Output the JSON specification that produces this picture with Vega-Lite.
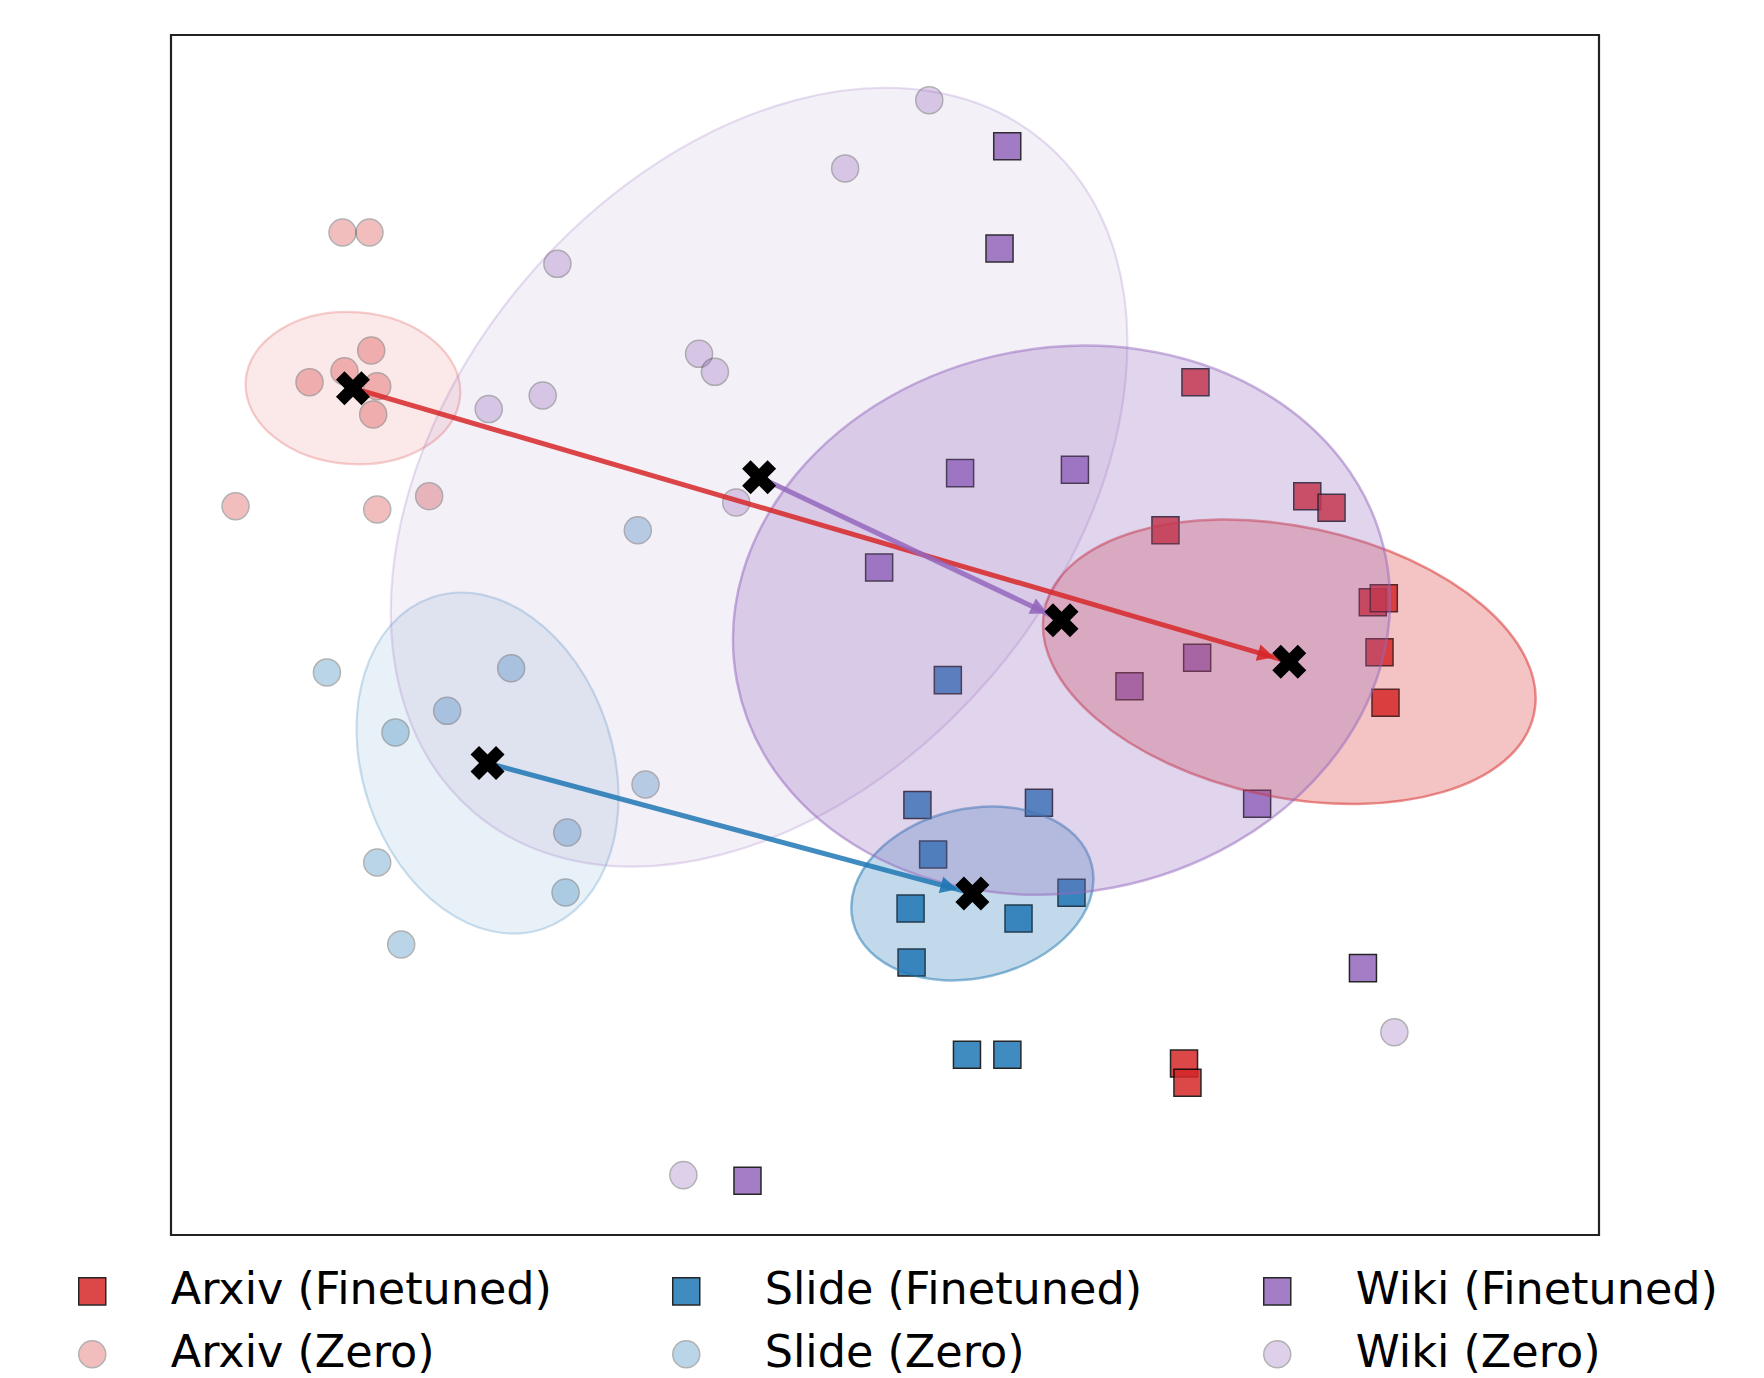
{
  "$schema": "https://vega.github.io/schema/vega-lite/v6.json",
  "autosize": {"type": "none"},
  "padding": {"left": 171, "top": 35, "right": 165, "bottom": 143},
  "width": 1428,
  "height": 1200,
  "background": "white",
  "config": {
    "font": "DejaVu Sans",
    "view": {"stroke": "#222", "strokeWidth": 2.2}
  },
  "data": {
    "values": [
      {"dataset": "Arxiv", "mode": "Zero", "series": "Arxiv (Zero)", "x": 12.01, "y": 83.54},
      {"dataset": "Arxiv", "mode": "Zero", "series": "Arxiv (Zero)", "x": 13.90, "y": 83.54},
      {"dataset": "Arxiv", "mode": "Zero", "series": "Arxiv (Zero)", "x": 14.02, "y": 73.71},
      {"dataset": "Arxiv", "mode": "Zero", "series": "Arxiv (Zero)", "x": 12.15, "y": 71.98},
      {"dataset": "Arxiv", "mode": "Zero", "series": "Arxiv (Zero)", "x": 9.70, "y": 71.07},
      {"dataset": "Arxiv", "mode": "Zero", "series": "Arxiv (Zero)", "x": 14.44, "y": 70.73},
      {"dataset": "Arxiv", "mode": "Zero", "series": "Arxiv (Zero)", "x": 14.16, "y": 68.38},
      {"dataset": "Arxiv", "mode": "Zero", "series": "Arxiv (Zero)", "x": 4.52, "y": 60.73},
      {"dataset": "Arxiv", "mode": "Zero", "series": "Arxiv (Zero)", "x": 14.44, "y": 60.46},
      {"dataset": "Arxiv", "mode": "Zero", "series": "Arxiv (Zero)", "x": 18.08, "y": 61.57},
      {"dataset": "Arxiv", "mode": "Finetuned", "series": "Arxiv (Finetuned)", "x": 71.74, "y": 71.07},
      {"dataset": "Arxiv", "mode": "Finetuned", "series": "Arxiv (Finetuned)", "x": 79.57, "y": 61.57},
      {"dataset": "Arxiv", "mode": "Finetuned", "series": "Arxiv (Finetuned)", "x": 81.27, "y": 60.60},
      {"dataset": "Arxiv", "mode": "Finetuned", "series": "Arxiv (Finetuned)", "x": 69.64, "y": 58.73},
      {"dataset": "Arxiv", "mode": "Finetuned", "series": "Arxiv (Finetuned)", "x": 84.16, "y": 52.73},
      {"dataset": "Arxiv", "mode": "Finetuned", "series": "Arxiv (Finetuned)", "x": 84.93, "y": 53.07},
      {"dataset": "Arxiv", "mode": "Finetuned", "series": "Arxiv (Finetuned)", "x": 84.63, "y": 48.57},
      {"dataset": "Arxiv", "mode": "Finetuned", "series": "Arxiv (Finetuned)", "x": 85.05, "y": 44.35},
      {"dataset": "Arxiv", "mode": "Finetuned", "series": "Arxiv (Finetuned)", "x": 70.94, "y": 14.29},
      {"dataset": "Arxiv", "mode": "Finetuned", "series": "Arxiv (Finetuned)", "x": 71.18, "y": 12.68},
      {"dataset": "Slide", "mode": "Zero", "series": "Slide (Zero)", "x": 32.69, "y": 58.73},
      {"dataset": "Slide", "mode": "Zero", "series": "Slide (Zero)", "x": 10.92, "y": 46.88},
      {"dataset": "Slide", "mode": "Zero", "series": "Slide (Zero)", "x": 23.82, "y": 47.23},
      {"dataset": "Slide", "mode": "Zero", "series": "Slide (Zero)", "x": 19.34, "y": 43.68},
      {"dataset": "Slide", "mode": "Zero", "series": "Slide (Zero)", "x": 15.72, "y": 41.88},
      {"dataset": "Slide", "mode": "Zero", "series": "Slide (Zero)", "x": 33.23, "y": 37.54},
      {"dataset": "Slide", "mode": "Zero", "series": "Slide (Zero)", "x": 27.75, "y": 33.54},
      {"dataset": "Slide", "mode": "Zero", "series": "Slide (Zero)", "x": 14.44, "y": 31.04},
      {"dataset": "Slide", "mode": "Zero", "series": "Slide (Zero)", "x": 27.63, "y": 28.54},
      {"dataset": "Slide", "mode": "Zero", "series": "Slide (Zero)", "x": 16.12, "y": 24.21},
      {"dataset": "Slide", "mode": "Finetuned", "series": "Slide (Finetuned)", "x": 54.40, "y": 46.24},
      {"dataset": "Slide", "mode": "Finetuned", "series": "Slide (Finetuned)", "x": 52.27, "y": 35.83},
      {"dataset": "Slide", "mode": "Finetuned", "series": "Slide (Finetuned)", "x": 60.78, "y": 36.02},
      {"dataset": "Slide", "mode": "Finetuned", "series": "Slide (Finetuned)", "x": 53.37, "y": 31.71},
      {"dataset": "Slide", "mode": "Finetuned", "series": "Slide (Finetuned)", "x": 63.06, "y": 28.52},
      {"dataset": "Slide", "mode": "Finetuned", "series": "Slide (Finetuned)", "x": 51.79, "y": 27.21},
      {"dataset": "Slide", "mode": "Finetuned", "series": "Slide (Finetuned)", "x": 59.35, "y": 26.38},
      {"dataset": "Slide", "mode": "Finetuned", "series": "Slide (Finetuned)", "x": 51.86, "y": 22.71},
      {"dataset": "Slide", "mode": "Finetuned", "series": "Slide (Finetuned)", "x": 55.74, "y": 15.02},
      {"dataset": "Slide", "mode": "Finetuned", "series": "Slide (Finetuned)", "x": 58.57, "y": 15.02},
      {"dataset": "Wiki", "mode": "Zero", "series": "Wiki (Zero)", "x": 53.10, "y": 94.57},
      {"dataset": "Wiki", "mode": "Zero", "series": "Wiki (Zero)", "x": 47.21, "y": 88.88},
      {"dataset": "Wiki", "mode": "Zero", "series": "Wiki (Zero)", "x": 27.06, "y": 80.93},
      {"dataset": "Wiki", "mode": "Zero", "series": "Wiki (Zero)", "x": 36.98, "y": 73.43},
      {"dataset": "Wiki", "mode": "Zero", "series": "Wiki (Zero)", "x": 38.09, "y": 71.93},
      {"dataset": "Wiki", "mode": "Zero", "series": "Wiki (Zero)", "x": 26.03, "y": 69.96},
      {"dataset": "Wiki", "mode": "Zero", "series": "Wiki (Zero)", "x": 22.25, "y": 68.83},
      {"dataset": "Wiki", "mode": "Zero", "series": "Wiki (Zero)", "x": 39.58, "y": 61.05},
      {"dataset": "Wiki", "mode": "Zero", "series": "Wiki (Zero)", "x": 85.67, "y": 16.90},
      {"dataset": "Wiki", "mode": "Zero", "series": "Wiki (Zero)", "x": 35.88, "y": 4.99},
      {"dataset": "Wiki", "mode": "Finetuned", "series": "Wiki (Finetuned)", "x": 58.56, "y": 90.73},
      {"dataset": "Wiki", "mode": "Finetuned", "series": "Wiki (Finetuned)", "x": 58.02, "y": 82.21},
      {"dataset": "Wiki", "mode": "Finetuned", "series": "Wiki (Finetuned)", "x": 55.26, "y": 63.49},
      {"dataset": "Wiki", "mode": "Finetuned", "series": "Wiki (Finetuned)", "x": 63.30, "y": 63.77},
      {"dataset": "Wiki", "mode": "Finetuned", "series": "Wiki (Finetuned)", "x": 49.59, "y": 55.62},
      {"dataset": "Wiki", "mode": "Finetuned", "series": "Wiki (Finetuned)", "x": 71.86, "y": 48.10},
      {"dataset": "Wiki", "mode": "Finetuned", "series": "Wiki (Finetuned)", "x": 67.12, "y": 45.73},
      {"dataset": "Wiki", "mode": "Finetuned", "series": "Wiki (Finetuned)", "x": 76.06, "y": 35.93},
      {"dataset": "Wiki", "mode": "Finetuned", "series": "Wiki (Finetuned)", "x": 83.47, "y": 22.24},
      {"dataset": "Wiki", "mode": "Finetuned", "series": "Wiki (Finetuned)", "x": 40.37, "y": 4.52}
    ]
  },
  "resolve": {"scale": {"color": "independent", "shape": "independent", "stroke": "independent", "opacity": "independent"}},
  "layer": [
    {
      "mark": {"type": "point", "filled": true, "size": 730, "stroke": "black", "strokeWidth": 1.5},
      "encoding": {
        "x": {"field": "x", "type": "quantitative", "scale": {"domain": [0, 100], "nice": false, "zero": false}, "axis": null},
        "y": {"field": "y", "type": "quantitative", "scale": {"domain": [0, 100], "nice": false, "zero": false}, "axis": null},
        "color": {
          "field": "series", "type": "nominal",
          "scale": {
            "domain": ["Arxiv (Finetuned)", "Arxiv (Zero)", "Slide (Finetuned)", "Slide (Zero)", "Wiki (Finetuned)", "Wiki (Zero)"],
            "range": ["#d62728", "#d62728", "#1f77b4", "#1f77b4", "#9467bd", "#9467bd"]
          },
          "legend": {
            "title": null, "orient": "none", "legendX": -101, "legendY": 1234,
            "columns": 3, "columnPadding": 112, "rowPadding": 18,
            "labelFontSize": 44.5, "labelFont": "DejaVu Sans", "labelColor": "#000",
            "labelOffset": 56.25, "labelLimit": 1000,
            "symbolSize": 730, "symbolStrokeWidth": 1.5, "symbolStrokeColor": "black",
            "padding": 0
          }
        },
        "shape": {
          "field": "series", "type": "nominal", "title": null,
          "scale": {
            "domain": ["Arxiv (Finetuned)", "Arxiv (Zero)", "Slide (Finetuned)", "Slide (Zero)", "Wiki (Finetuned)", "Wiki (Zero)"],
            "range": ["square", "circle", "square", "circle", "square", "circle"]
          }
        },
        "opacity": {
          "field": "series", "type": "nominal", "title": null,
          "scale": {
            "type": "ordinal",
            "domain": ["Arxiv (Finetuned)", "Arxiv (Zero)", "Slide (Finetuned)", "Slide (Zero)", "Wiki (Finetuned)", "Wiki (Zero)"],
            "range": [0.85, 0.3, 0.85, 0.3, 0.85, 0.3]
          }
        }
      }
    },
    {
      "transform": [
        {"filter": "datum.mode === 'Zero'"},
        {"aggregate": [{"op": "mean", "field": "x", "as": "cx"}, {"op": "mean", "field": "y", "as": "cy"}], "groupby": ["dataset"]}
      ],
      "mark": {"type": "point", "filled": true, "size": 4, "opacity": 1, "fillOpacity": 0.1, "strokeOpacity": 0.22, "strokeWidth": 2.2},
      "encoding": {
        "x": {"field": "cx", "type": "quantitative"},
        "y": {"field": "cy", "type": "quantitative"},
        "color": {"field": "dataset", "type": "nominal", "scale": {"domain": ["Arxiv", "Slide", "Wiki"], "range": ["#d62728", "#1f77b4", "#9467bd"]}, "legend": null},
        "stroke": {"field": "dataset", "type": "nominal", "scale": {"domain": ["Arxiv", "Slide", "Wiki"], "range": ["#d62728", "#1f77b4", "#9467bd"]}, "legend": null},
        "shape": {
          "field": "dataset", "type": "nominal", "legend": null,
          "scale": {
            "domain": ["Arxiv", "Slide", "Wiki"],
            "range": [
              "M 107.24 7.5 A 107.5 76 4 0 1 -5.3 75.82 A 107.5 76 4 0 1 -107.24 -7.5 A 107.5 76 4 0 1 5.3 -75.82 A 107.5 76 4 0 1 107.24 7.5 Z",
              "M 55.18 165.87 A 174.8 125.2 71.6 0 1 -118.8 39.53 A 174.8 125.2 71.6 0 1 -55.18 -165.87 A 174.8 125.2 71.6 0 1 118.8 -39.53 A 174.8 125.2 71.6 0 1 55.18 165.87 Z",
              "M 285.16 -335.06 A 440 306 -49.6 0 1 233.02 198.32 A 440 306 -49.6 0 1 -285.16 335.06 A 440 306 -49.6 0 1 -233.02 -198.32 A 440 306 -49.6 0 1 285.16 -335.06 Z"
            ]
          }
        }
      }
    },
    {
      "transform": [
        {"filter": "datum.mode === 'Finetuned'"},
        {"aggregate": [{"op": "mean", "field": "x", "as": "cx"}, {"op": "mean", "field": "y", "as": "cy"}], "groupby": ["dataset"]}
      ],
      "mark": {"type": "point", "filled": true, "size": 4, "opacity": 1, "fillOpacity": 0.28, "strokeOpacity": 0.5, "strokeWidth": 2.5},
      "encoding": {
        "x": {"field": "cx", "type": "quantitative"},
        "y": {"field": "cy", "type": "quantitative"},
        "color": {"field": "dataset", "type": "nominal", "scale": {"domain": ["Arxiv", "Slide", "Wiki"], "range": ["#d62728", "#1f77b4", "#9467bd"]}, "legend": null},
        "stroke": {"field": "dataset", "type": "nominal", "scale": {"domain": ["Arxiv", "Slide", "Wiki"], "range": ["#d62728", "#1f77b4", "#9467bd"]}, "legend": null},
        "shape": {
          "field": "dataset", "type": "nominal", "legend": null,
          "scale": {
            "domain": ["Arxiv", "Slide", "Wiki"],
            "range": [
              "M 244.73 52.02 A 250.2 135.3 12 0 1 -28.13 132.34 A 250.2 135.3 12 0 1 -244.73 -52.02 A 250.2 135.3 12 0 1 28.13 -132.34 A 250.2 135.3 12 0 1 244.73 52.02 Z",
              "M 119.51 -27.82 A 122.7 84.6 -13.1 0 1 19.18 82.4 A 122.7 84.6 -13.1 0 1 -119.51 27.82 A 122.7 84.6 -13.1 0 1 -19.18 -82.4 A 122.7 84.6 -13.1 0 1 119.51 -27.82 Z",
              "M 324.55 -61.34 A 330.3 272.3 -10.7 0 1 50.57 267.56 A 330.3 272.3 -10.7 0 1 -324.55 61.34 A 330.3 272.3 -10.7 0 1 -50.57 -267.56 A 330.3 272.3 -10.7 0 1 324.55 -61.34 Z"
            ]
          }
        }
      }
    },
    {
      "transform": [
        {"aggregate": [{"op": "mean", "field": "x", "as": "cx"}, {"op": "mean", "field": "y", "as": "cy"}], "groupby": ["dataset", "mode"]}
      ],
      "mark": {"type": "line", "strokeWidth": 5, "opacity": 0.85, "strokeCap": "butt"},
      "encoding": {
        "x": {"field": "cx", "type": "quantitative"},
        "y": {"field": "cy", "type": "quantitative"},
        "color": {"field": "dataset", "type": "nominal", "scale": {"domain": ["Arxiv", "Slide", "Wiki"], "range": ["#d62728", "#1f77b4", "#9467bd"]}, "legend": null},
        "order": {"field": "mode", "sort": "descending"}
      }
    },
    {
      "transform": [
        {"filter": "datum.mode === 'Finetuned'"},
        {"aggregate": [{"op": "mean", "field": "x", "as": "cx"}, {"op": "mean", "field": "y", "as": "cy"}], "groupby": ["dataset"]}
      ],
      "mark": {"type": "point", "filled": true, "size": 4, "opacity": 0.9, "strokeWidth": 0},
      "encoding": {
        "x": {"field": "cx", "type": "quantitative"},
        "y": {"field": "cy", "type": "quantitative"},
        "color": {"field": "dataset", "type": "nominal", "scale": {"domain": ["Arxiv", "Slide", "Wiki"], "range": ["#d62728", "#1f77b4", "#9467bd"]}, "legend": null},
        "shape": {
          "field": "dataset", "type": "nominal", "legend": null,
          "scale": {
            "domain": ["Arxiv", "Slide", "Wiki"],
            "range": [
              "M -14.87 -4.37 L -28.79 -17.32 L -33.57 -1 Z",
              "M -14.95 -4.07 L -29.13 -16.74 L -33.59 -0.34 Z",
              "M -13.98 -6.69 L -25.65 -21.69 L -32.99 -6.35 Z"
            ]
          }
        }
      }
    },
    {
      "transform": [
        {"aggregate": [{"op": "mean", "field": "x", "as": "cx"}, {"op": "mean", "field": "y", "as": "cy"}], "groupby": ["dataset", "mode"]}
      ],
      "mark": {
        "type": "point", "filled": true, "size": 1156, "opacity": 1, "color": "black", "strokeWidth": 0,
        "shape": "M 0.5 0 L 1 0.5 L 0.5 1 L 0 0.5 L -0.5 1 L -1 0.5 L -0.5 0 L -1 -0.5 L -0.5 -1 L 0 -0.5 L 0.5 -1 L 1 -0.5 Z"
      },
      "encoding": {
        "x": {"field": "cx", "type": "quantitative"},
        "y": {"field": "cy", "type": "quantitative"}
      }
    }
  ]
}
